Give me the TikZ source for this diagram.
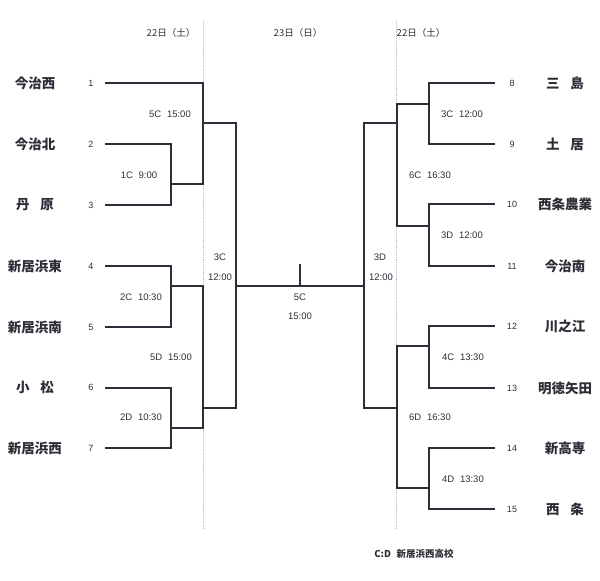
\documentclass[tikz,border=0pt]{standalone}
\usepackage{fontspec}
\setmainfont{Liberation Sans}
\newfontfamily\jp{Noto Sans CJK JP}
\definecolor{ln}{RGB}{45,45,55}
\definecolor{dl}{RGB}{175,190,205}
\begin{document}
\begin{tikzpicture}[x=1pt,y=-1pt,
  br/.style={draw=ln,line width=1.2pt,line cap=rect},
  sep/.style={draw=dl,line width=0.9pt,densely dotted},
  team/.style={font=\jp\bfseries\fontsize{13.5}{15}\selectfont,text=ln,inner sep=0pt},
  num/.style={font=\fontsize{9}{10}\selectfont,text=ln,inner sep=0pt},
  lab/.style={font=\fontsize{9.5}{11}\selectfont,text=ln,inner sep=0pt},
  day/.style={font=\jp\fontsize{9.5}{11}\selectfont,text=ln,inner sep=0pt}]
\useasboundingbox (0,0) rectangle (600,581);
% separators
\draw[sep] (203,21) -- (203,529);
\draw[sep] (396,21) -- (396,529);
% day headers
\node[day] (d1) at (171,33) {22日（土）};
\node[day] (d2) at (298,33) {23日（日）};
\node[day] (d3) at (421,33) {22日（土）};
% left teams
\node[team] (t1) at (35,83) {今治西};
\node[team] (t2) at (35,144) {今治北};
\node[team] (t3) at (35,205) {丹\hspace{0.8em}原};
\node[team] (t4) at (35,266) {新居浜東};
\node[team] (t5) at (35,327) {新居浜南};
\node[team] (t6) at (35,387) {小\hspace{0.8em}松};
\node[team] (t7) at (35,448) {新居浜西};
\foreach \n/\y in {1/83,2/144,3/205,4/266,5/327,6/387,7/448}
  \node[num] (n\n) at (91,\y) {\n};
% right teams
\node[team] (t8) at (565,83) {三\hspace{0.8em}島};
\node[team] (t9) at (565,144) {土\hspace{0.8em}居};
\node[team] (t10) at (565,204) {西条農業};
\node[team] (t11) at (565,266) {今治南};
\node[team] (t12) at (565,326) {川之江};
\node[team] (t13) at (565,388) {明徳矢田};
\node[team] (t14) at (565,448) {新高専};
\node[team] (t15) at (565,509) {西\hspace{0.8em}条};
\foreach \n/\y in {8/83,9/144,10/204,11/266,12/326,13/388,14/448,15/509}
  \node[num] (n\n) at (512,\y) {\n};
% coordinates of the bracket
\coordinate (a1) at (106,83);  \coordinate (b1) at (203,83);
\coordinate (a2) at (106,144); \coordinate (b2) at (171,144);
\coordinate (a3) at (106,205); \coordinate (b3) at (171,205);
\coordinate (a4) at (106,266); \coordinate (b4) at (171,266);
\coordinate (a5) at (106,327); \coordinate (b5) at (171,327);
\coordinate (a6) at (106,388); \coordinate (b6) at (171,388);
\coordinate (a7) at (106,448); \coordinate (b7) at (171,448);
\coordinate (c1) at (171,184); \coordinate (e1) at (203,184);
\coordinate (c2) at (171,286); \coordinate (e2) at (203,286);
\coordinate (c3) at (171,428); \coordinate (e3) at (203,428);
\coordinate (f1) at (203,123); \coordinate (g1) at (236,123);
\coordinate (f2) at (203,408); \coordinate (g2) at (236,408);
\coordinate (h1) at (236,286); \coordinate (h2) at (364,286);
\coordinate (tk) at (300,265); \coordinate (tb) at (300,286);
% right coordinates
\coordinate (a8) at (494,83);   \coordinate (b8) at (429,83);
\coordinate (a9) at (494,144);  \coordinate (b9) at (429,144);
\coordinate (a10) at (494,204); \coordinate (b10) at (429,204);
\coordinate (a11) at (494,266); \coordinate (b11) at (429,266);
\coordinate (a12) at (494,326); \coordinate (b12) at (429,326);
\coordinate (a13) at (494,388); \coordinate (b13) at (429,388);
\coordinate (a14) at (494,448); \coordinate (b14) at (429,448);
\coordinate (a15) at (494,509); \coordinate (b15) at (429,509);
\coordinate (r1) at (429,104); \coordinate (s1) at (397,104);
\coordinate (r2) at (429,226); \coordinate (s2) at (397,226);
\coordinate (r3) at (429,346); \coordinate (s3) at (397,346);
\coordinate (r4) at (429,488); \coordinate (s4) at (397,488);
\coordinate (u1) at (397,123); \coordinate (v1) at (364,123);
\coordinate (u2) at (397,408); \coordinate (v2) at (364,408);
% left bracket lines
\draw[br] (a1) -- (b1) -- (e1) -- (c1);
\draw[br] (a2) -- (b2) -- (b3) -- (a3);
\draw[br] (a4) -- (b4) -- (b5) -- (a5);
\draw[br] (a6) -- (b6) -- (b7) -- (a7);
\draw[br] (c2) -- (e2) -- (e3) -- (c3);
\draw[br] (f1) -- (g1) -- (g2) -- (f2);
% final
\draw[br] (h1) -- (h2);
\draw[br] (tk) -- (tb);
% right bracket lines
\draw[br] (v1) -- (v2);
\draw[br] (v1) -- (u1);
\draw[br] (v2) -- (u2);
\draw[br] (s1) -- (s2);
\draw[br] (s1) -- (r1);
\draw[br] (s2) -- (r2);
\draw[br] (s3) -- (s4);
\draw[br] (s3) -- (r3);
\draw[br] (s4) -- (r4);
\draw[br] (a8) -- (b8) -- (b9) -- (a9);
\draw[br] (a10) -- (b10) -- (b11) -- (a11);
\draw[br] (a12) -- (b12) -- (b13) -- (a13);
\draw[br] (a14) -- (b14) -- (b15) -- (a15);
% match labels left
\node[lab] (m5c) at (170,114) {5C\hspace{0.6em}15:00};
\node[lab] (m1c) at (139,175) {1C\hspace{0.6em}9:00};
\node[lab] (m2c) at (141,297) {2C\hspace{0.6em}10:30};
\node[lab] (m5d) at (171,357) {5D\hspace{0.6em}15:00};
\node[lab] (m2d) at (141,417) {2D\hspace{0.6em}10:30};
\node[lab] (m3c) at (220,257) {3C};
\node[lab] (m3ct) at (220,277) {12:00};
\node[lab] (mf) at (300,297) {5C};
\node[lab] (mft) at (300,316) {15:00};
\node[lab] (m3d) at (380,257) {3D};
\node[lab] (m3dt) at (381,277) {12:00};
% match labels right
\node[lab] (r3c) at (462,114) {3C\hspace{0.6em}12:00};
\node[lab] (r6c) at (430,175) {6C\hspace{0.6em}16:30};
\node[lab] (r3d) at (462,235) {3D\hspace{0.6em}12:00};
\node[lab] (r4c) at (463,357) {4C\hspace{0.6em}13:30};
\node[lab] (r6d) at (430,417) {6D\hspace{0.6em}16:30};
\node[lab] (r4d) at (463,479) {4D\hspace{0.6em}13:30};
% footer
\node[lab,font=\jp\bfseries\fontsize{9.5}{11}\selectfont] (ft) at (414,554) {C:D\hspace{0.6em}新居浜西高校};
\end{tikzpicture}
\end{document}
